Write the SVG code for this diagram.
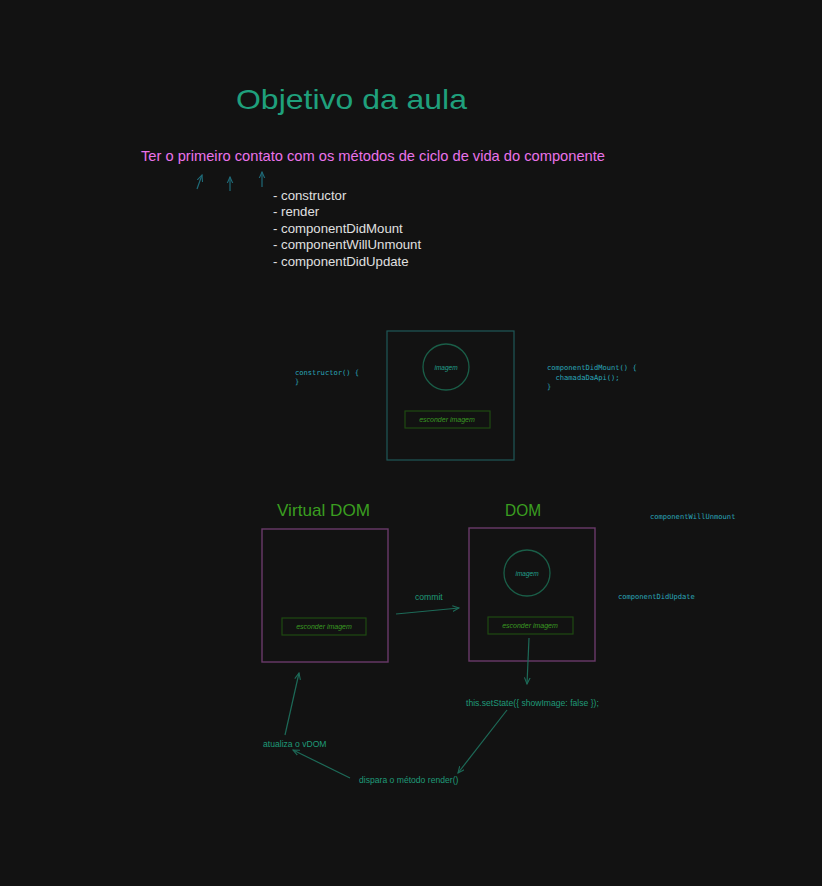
<svg xmlns="http://www.w3.org/2000/svg" width="822" height="886" viewBox="0 0 822 886">
<defs>
<marker id="ah" viewBox="0 0 10 10" refX="9" refY="5" markerWidth="6" markerHeight="6" orient="auto-start-reverse">
<path d="M0,1 L9,5 L0,9" fill="none" stroke="context-stroke" stroke-width="1.5"/>
</marker>
<style>
.hand{font-family:"Liberation Sans",Arial,sans-serif;}
.mono{font-family:"DejaVu Sans Mono","Liberation Mono",monospace;font-size:7.1px;fill:#2aa6b8;}
.lbl{font-family:"Liberation Sans",Arial,sans-serif;font-size:8.6px;fill:#1f9a78;}
.conn{fill:none;stroke:#1d6a58;stroke-width:1.2;marker-end:url(#ah);}
.up{fill:none;stroke:#1f6a78;stroke-width:1.2;marker-end:url(#ah);}
.frameT{fill:none;stroke:#1f5858;stroke-width:1.2;}
.frameP{fill:none;stroke:#6a3a6a;stroke-width:1.4;}
.circ{fill:none;stroke:#1a5e48;stroke-width:1.3;}
.btn{fill:none;stroke:#1e4a12;stroke-width:1.2;}
.btnT{font-family:"Liberation Sans",Arial,sans-serif;font-size:7px;fill:#3a9a22;font-style:italic;}
.imgT{font-family:"Liberation Sans",Arial,sans-serif;font-size:6.5px;fill:#22a08c;font-style:italic;}
.list{font-family:"Liberation Sans",Arial,sans-serif;font-size:13.2px;fill:#e0e0e0;}
.green{font-family:"Liberation Sans",Arial,sans-serif;font-size:17px;fill:#3a9e20;}
</style>
</defs>
<rect width="822" height="886" fill="#121212"/>

<g id="title"><text class="hand" x="236" y="109" font-size="28" fill="#1fa07c" textLength="231" lengthAdjust="spacingAndGlyphs">Objetivo da aula</text></g>
<g id="subtitle"><text class="hand" x="141" y="161" font-size="14.5" fill="#ea72ea" textLength="464" lengthAdjust="spacingAndGlyphs">Ter o primeiro contato com os métodos de ciclo de vida do componente</text></g>

<g id="methods">
<text class="list" x="273" y="200">- constructor</text>
<text class="list" x="273" y="216">- render</text>
<text class="list" x="273" y="233">- componentDidMount</text>
<text class="list" x="273" y="249">- componentWillUnmount</text>
<text class="list" x="273" y="266">- componentDidUpdate</text>
</g>

<g id="top-component">
<rect class="frameT" x="387" y="331" width="127" height="129"/>
<circle class="circ" cx="446" cy="367" r="23"/>
<text class="imgT" x="446" y="370" text-anchor="middle">imagem</text>
<rect class="btn" x="405" y="411" width="85" height="17"/>
<text class="btnT" x="447" y="422" text-anchor="middle">esconder imagem</text>
</g>

<g id="constructor-code">
<text class="mono" x="295" y="375">constructor() {</text>
<text class="mono" x="295" y="384">}</text>
</g>

<g id="didmount-code">
<text class="mono" x="547" y="370">componentDidMount() {</text>
<text class="mono" x="547" y="379.5" xml:space="preserve">  chamadaDaApi();</text>
<text class="mono" x="547" y="388.5">}</text>
</g>

<g id="virtual-dom">
<text class="green" x="277" y="516" textLength="93" lengthAdjust="spacingAndGlyphs">Virtual DOM</text>
<rect class="frameP" x="262" y="529" width="126" height="133"/>
<rect class="btn" x="282" y="618" width="84" height="17"/>
<text class="btnT" x="324" y="629" text-anchor="middle">esconder imagem</text>
</g>

<g id="dom">
<text class="green" x="505" y="516" textLength="36" lengthAdjust="spacingAndGlyphs">DOM</text>
<rect class="frameP" x="469" y="528" width="126" height="133"/>
<circle class="circ" cx="527" cy="573" r="23"/>
<text class="imgT" x="527" y="576" text-anchor="middle">imagem</text>
<rect class="btn" x="488" y="617" width="85" height="17"/>
<text class="btnT" x="530" y="628" text-anchor="middle">esconder imagem</text>
</g>

<g id="willunmount"><text class="mono" x="650" y="519">componentWillUnmount</text></g>
<g id="didupdate"><text class="mono" x="618" y="599">componentDidUpdate</text></g>

<g id="commit-label"><text class="lbl" x="415" y="600">commit</text></g>
<g id="setstate"><text class="lbl" x="466" y="706">this.setState({ showImage: false });</text></g>
<g id="dispara"><text class="lbl" x="359" y="783">dispara o método render()</text></g>
<g id="atualiza"><text class="lbl" x="263" y="747">atualiza o vDOM</text></g>

<g id="connectors">
<path class="up" d="M197,189 L202,175"/>
<path class="up" d="M230,191 L230,177"/>
<path class="up" d="M262,187 L262,172"/>
<path class="conn" d="M396,614 L459,608"/>
<path class="conn" d="M529,638 L527,684"/>
<path class="conn" d="M507,710 L458,773"/>
<path class="conn" d="M350,778 L293,750"/>
<path class="conn" d="M285,735 L299,673"/>
</g>
</svg>
